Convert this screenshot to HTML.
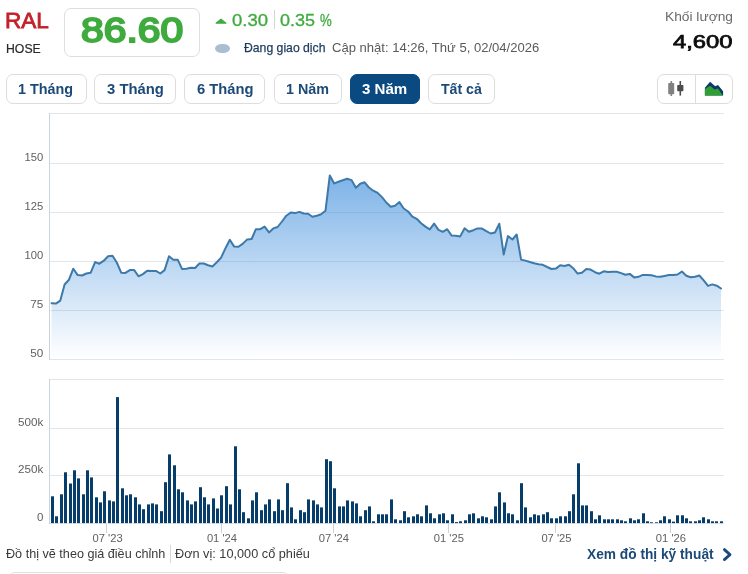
<!DOCTYPE html>
<html lang="vi"><head><meta charset="utf-8"><title>RAL</title>
<style>
html,body{margin:0;padding:0;background:#fff;}
body{width:748px;height:574px;position:relative;overflow:hidden;font-family:"Liberation Sans",sans-serif;color:#333;}
.abs{position:absolute;white-space:nowrap;line-height:1;transform-origin:0 0;}
.r{transform-origin:100% 0;}
.btn{position:absolute;top:74.1px;height:27.6px;border:1px solid #dddddd;border-radius:7px;background:#fff;box-sizing:content-box;}
.bt{font-weight:bold;color:#1c4a78;}
.btn.on{background:#0a4a80;border-color:#0a4a80;}
svg text{font-family:"Liberation Sans",sans-serif;}
</style></head><body>
<div class="abs" id="sym" style="left:5.14px;top:10.45px;font-size:22.30px;transform:scaleX(1.0121);color:#c3222b;-webkit-text-stroke:0.8px #c3222b;">RAL</div>
<div class="abs" id="exch" style="left:6.06px;top:43.10px;font-size:12.30px;transform:scaleX(0.9965);color:#2a2a2a;-webkit-text-stroke:0.2px #2a2a2a;">HOSE</div>
<div style="position:absolute;left:63.7px;top:7.7px;width:136.8px;height:49.6px;border:1px solid #dedede;border-radius:7px;box-sizing:border-box;"></div>
<div class="abs" id="price" style="left:81.46px;top:12.74px;font-size:34.80px;transform:scaleX(1.1735);color:#3fab3f;-webkit-text-stroke:2px #3fab3f;">86.60</div>
<svg class="abs" style="left:214px;top:17px" width="14" height="8" viewBox="0 0 14 8"><path d="M7 1.9 L12.2 6.2 L1.8 6.2 Z" fill="#3fab3f" stroke="#3fab3f" stroke-width="1" stroke-linejoin="round"/></svg>
<div class="abs" id="chg" style="left:231.78px;top:13.40px;font-size:15.70px;transform:scaleX(1.1806);color:#3fab3f;-webkit-text-stroke:0.3px #3fab3f;">0.30</div>
<div style="position:absolute;left:273.5px;top:10px;width:1px;height:19px;background:#d4d4d4;"></div>
<div class="abs" id="pct" style="left:280.20px;top:13.40px;font-size:15.70px;transform:scaleX(1.1457);color:#3fab3f;-webkit-text-stroke:0.3px #3fab3f;">0.35</div>
<div class="abs" id="pct2" style="left:320.03px;top:13.40px;font-size:15.70px;transform:scaleX(0.8414);color:#3fab3f;-webkit-text-stroke:0.3px #3fab3f;">%</div>
<div style="position:absolute;left:215px;top:43.5px;width:15px;height:9.5px;border-radius:50%;background:#a9bed1;"></div>
<div class="abs" id="stat" style="left:243.74px;top:40.60px;font-size:13.00px;transform:scaleX(0.9394);color:#1d3a5c;-webkit-text-stroke:0.25px #1d3a5c;">Đang giao dịch</div>
<div class="abs" id="upd" style="left:331.68px;top:40.53px;font-size:13.00px;transform:scaleX(1.0037);color:#5a5a5a;">Cập nhật: 14:26, Thứ 5, 02/04/2026</div>
<div class="abs" id="kl" style="left:665.39px;top:9.70px;font-size:13.00px;transform:scaleX(1.0586);color:#6a6a6a;">Khối lượng</div>
<div class="abs" id="vol" style="left:673.08px;top:31.51px;font-size:19.00px;transform:scaleX(1.2536);color:#0c0c0c;-webkit-text-stroke:0.75px #0c0c0c;">4,600</div>

<div class="btn" style="left:6px;width:78.5px;"></div>
<div class="btn" style="left:94px;width:80px;"></div>
<div class="btn" style="left:184px;width:79px;"></div>
<div class="btn" style="left:274px;width:65.5px;"></div>
<div class="btn on" style="left:349.7px;width:68.5px;"></div>
<div class="btn" style="left:428px;width:65px;"></div>
<div class="abs bt" id="b1" style="left:17.87px;top:82.25px;font-size:14.50px;transform:scaleX(0.9919);">1 Tháng</div>
<div class="abs bt" id="b2" style="left:106.88px;top:81.61px;font-size:14.50px;transform:scaleX(1.0235);">3 Tháng</div>
<div class="abs bt" id="b3" style="left:196.82px;top:82.31px;font-size:14.50px;transform:scaleX(1.0168);">6 Tháng</div>
<div class="abs bt" id="b4" style="left:285.97px;top:82.25px;font-size:14.50px;transform:scaleX(0.9886);">1 Năm</div>
<div class="abs bt" id="b5" style="left:362.40px;top:81.61px;font-size:14.50px;transform:scaleX(1.0402);color:#fff;">3 Năm</div>
<div class="abs bt" id="b6" style="left:441.06px;top:82.25px;font-size:14.50px;transform:scaleX(0.9733);">Tất cả</div>

<div style="position:absolute;left:656.9px;top:74.1px;width:74px;height:27.6px;border:1px solid #dddddd;border-radius:7px;"></div>
<div style="position:absolute;left:694.5px;top:75px;width:1px;height:28px;background:#dddddd;"></div>
<svg class="abs" style="left:660px;top:76px" width="72" height="26" viewBox="660 76 72 26">
<rect x="670.5" y="81" width="1.6" height="15" fill="#808080"/><rect x="668.2" y="83" width="6" height="11.2" rx="0.8" fill="#808080"/>
<rect x="679.5" y="81" width="1.6" height="14.6" fill="#4d4d4d"/><rect x="677.2" y="85" width="6.2" height="6.3" rx="0.8" fill="#4d4d4d"/>
<path d="M704.9 87.7 L710.1 81.8 L715.2 86.3 L718 85 L723.1 91.2 L723.1 95.6 L704.9 95.6 Z" fill="#0b3a69"/>
<path d="M704.9 95.6 L704.9 89.1 L710.1 85.7 L714.5 89.5 L718 88.4 L722.1 94.6 L723.1 95.6 Z" fill="#2f9e33"/>
</svg>

<svg class="abs" style="left:0;top:0" width="748" height="574" viewBox="0 0 748 574">
<defs><linearGradient id="g" x1="0" y1="114" x2="0" y2="359" gradientUnits="userSpaceOnUse">
<stop offset="0" stop-color="#4390dd" stop-opacity="0.92"/><stop offset="1" stop-color="#4390dd" stop-opacity="0"/></linearGradient></defs>
<g stroke="#e3e5e8" stroke-width="1" shape-rendering="crispEdges">
<line x1="49" y1="113.5" x2="723.5" y2="113.5"/>
<line x1="49" y1="163.5" x2="723.5" y2="163.5"/>
<line x1="49" y1="212.5" x2="723.5" y2="212.5"/>
<line x1="49" y1="261.5" x2="723.5" y2="261.5"/>
<line x1="49" y1="310.5" x2="723.5" y2="310.5"/>
<line x1="49" y1="359.5" x2="723.5" y2="359.5"/>
<line x1="49" y1="379.5" x2="723.5" y2="379.5"/>
<line x1="49" y1="428.5" x2="723.5" y2="428.5"/>
<line x1="49" y1="475.5" x2="723.5" y2="475.5"/>
<line x1="49" y1="523.5" x2="723.5" y2="523.5"/>
</g>
<g stroke="#cad4df" stroke-width="1" shape-rendering="crispEdges">
<line x1="49.5" y1="113" x2="49.5" y2="360"/>
<line x1="49.5" y1="379" x2="49.5" y2="524"/>
<line x1="106.5" y1="524" x2="106.5" y2="532.6"/>
<line x1="221.5" y1="524" x2="221.5" y2="532.6"/>
<line x1="333.5" y1="524" x2="333.5" y2="532.6"/>
<line x1="448.5" y1="524" x2="448.5" y2="532.6"/>
<line x1="555.5" y1="524" x2="555.5" y2="532.6"/>
<line x1="670.5" y1="524" x2="670.5" y2="532.6"/>
</g>
<path d="M51.6 303.2 L55.9 303.6 L60.3 300.6 L64.6 284.5 L69.0 279.7 L73.3 268.7 L77.7 275.1 L82.0 275.5 L86.4 273.5 L90.7 272.7 L95.1 262.1 L99.4 263.7 L103.8 260.7 L108.1 256.3 L112.5 255.7 L116.8 262.5 L121.2 272.7 L125.5 272.9 L129.8 270.1 L134.2 270.1 L138.5 276.3 L142.9 274.1 L147.2 270.7 L151.6 271.1 L155.9 270.9 L160.3 273.5 L164.6 270.1 L169.0 256.3 L173.3 259.7 L177.7 259.7 L182.0 268.9 L186.4 268.7 L190.7 267.7 L195.1 268.0 L199.4 263.5 L203.7 263.5 L208.1 265.3 L212.4 266.5 L216.8 262.3 L221.1 257.6 L225.5 248.2 L229.8 239.8 L234.2 246.6 L238.5 246.8 L242.9 243.6 L247.2 239.4 L251.6 239.0 L255.9 229.2 L260.3 229.2 L264.6 226.6 L269.0 232.4 L273.3 228.4 L277.6 227.0 L282.0 221.5 L286.3 215.7 L290.7 212.5 L295.0 213.1 L299.4 211.9 L303.7 213.5 L308.1 213.7 L312.4 216.7 L316.8 215.7 L321.1 214.3 L325.5 210.7 L329.8 175.4 L334.2 183.4 L338.5 181.8 L342.8 180.3 L347.2 178.8 L351.5 180.1 L355.9 187.7 L360.2 183.7 L364.6 182.3 L368.9 187.5 L373.3 190.7 L377.6 192.9 L382.0 197.1 L386.3 202.5 L390.7 206.7 L395.0 205.7 L399.4 202.1 L403.7 208.5 L408.1 211.5 L412.4 216.7 L416.7 218.8 L421.1 223.2 L425.4 226.6 L429.8 229.4 L434.1 223.6 L438.5 229.8 L442.8 231.8 L447.2 229.2 L451.5 235.4 L455.9 235.8 L460.2 236.4 L464.6 228.2 L468.9 231.8 L473.3 230.2 L477.6 228.4 L482.0 228.6 L486.3 231.1 L490.6 233.5 L495.0 232.5 L499.3 223.7 L503.7 254.6 L508.0 236.1 L512.4 239.5 L516.7 234.5 L521.1 259.6 L525.4 260.6 L529.8 262.0 L534.1 263.2 L538.5 264.2 L542.8 264.8 L547.2 267.0 L551.5 269.0 L555.9 268.6 L560.2 265.2 L564.5 266.0 L568.9 264.8 L573.2 268.2 L577.6 273.6 L581.9 272.8 L586.3 269.0 L590.6 269.6 L595.0 272.2 L599.3 273.7 L603.7 271.3 L608.0 272.1 L612.4 271.7 L616.7 271.7 L621.1 273.1 L625.4 274.8 L629.8 273.9 L634.1 277.4 L638.4 276.8 L642.8 274.9 L647.1 274.9 L651.5 275.3 L655.8 276.4 L660.2 276.8 L664.5 276.0 L668.9 275.1 L673.2 274.9 L677.6 274.5 L681.9 271.5 L686.3 275.7 L690.6 277.2 L695.0 276.8 L699.3 275.5 L703.7 280.4 L708.0 285.9 L712.3 284.4 L716.7 285.7 L721.0 288.5 L721.0 359.2 L51.6 359.2 Z" fill="url(#g)"/>
<path d="M51.6 303.2 L55.9 303.6 L60.3 300.6 L64.6 284.5 L69.0 279.7 L73.3 268.7 L77.7 275.1 L82.0 275.5 L86.4 273.5 L90.7 272.7 L95.1 262.1 L99.4 263.7 L103.8 260.7 L108.1 256.3 L112.5 255.7 L116.8 262.5 L121.2 272.7 L125.5 272.9 L129.8 270.1 L134.2 270.1 L138.5 276.3 L142.9 274.1 L147.2 270.7 L151.6 271.1 L155.9 270.9 L160.3 273.5 L164.6 270.1 L169.0 256.3 L173.3 259.7 L177.7 259.7 L182.0 268.9 L186.4 268.7 L190.7 267.7 L195.1 268.0 L199.4 263.5 L203.7 263.5 L208.1 265.3 L212.4 266.5 L216.8 262.3 L221.1 257.6 L225.5 248.2 L229.8 239.8 L234.2 246.6 L238.5 246.8 L242.9 243.6 L247.2 239.4 L251.6 239.0 L255.9 229.2 L260.3 229.2 L264.6 226.6 L269.0 232.4 L273.3 228.4 L277.6 227.0 L282.0 221.5 L286.3 215.7 L290.7 212.5 L295.0 213.1 L299.4 211.9 L303.7 213.5 L308.1 213.7 L312.4 216.7 L316.8 215.7 L321.1 214.3 L325.5 210.7 L329.8 175.4 L334.2 183.4 L338.5 181.8 L342.8 180.3 L347.2 178.8 L351.5 180.1 L355.9 187.7 L360.2 183.7 L364.6 182.3 L368.9 187.5 L373.3 190.7 L377.6 192.9 L382.0 197.1 L386.3 202.5 L390.7 206.7 L395.0 205.7 L399.4 202.1 L403.7 208.5 L408.1 211.5 L412.4 216.7 L416.7 218.8 L421.1 223.2 L425.4 226.6 L429.8 229.4 L434.1 223.6 L438.5 229.8 L442.8 231.8 L447.2 229.2 L451.5 235.4 L455.9 235.8 L460.2 236.4 L464.6 228.2 L468.9 231.8 L473.3 230.2 L477.6 228.4 L482.0 228.6 L486.3 231.1 L490.6 233.5 L495.0 232.5 L499.3 223.7 L503.7 254.6 L508.0 236.1 L512.4 239.5 L516.7 234.5 L521.1 259.6 L525.4 260.6 L529.8 262.0 L534.1 263.2 L538.5 264.2 L542.8 264.8 L547.2 267.0 L551.5 269.0 L555.9 268.6 L560.2 265.2 L564.5 266.0 L568.9 264.8 L573.2 268.2 L577.6 273.6 L581.9 272.8 L586.3 269.0 L590.6 269.6 L595.0 272.2 L599.3 273.7 L603.7 271.3 L608.0 272.1 L612.4 271.7 L616.7 271.7 L621.1 273.1 L625.4 274.8 L629.8 273.9 L634.1 277.4 L638.4 276.8 L642.8 274.9 L647.1 274.9 L651.5 275.3 L655.8 276.4 L660.2 276.8 L664.5 276.0 L668.9 275.1 L673.2 274.9 L677.6 274.5 L681.9 271.5 L686.3 275.7 L690.6 277.2 L695.0 276.8 L699.3 275.5 L703.7 280.4 L708.0 285.9 L712.3 284.4 L716.7 285.7 L721.0 288.5" fill="none" stroke="#3d79a9" stroke-width="2" stroke-linejoin="round" stroke-linecap="round"/>
<g fill="#073d6b"><rect x="51" y="496.3" width="3" height="26.8"/><rect x="55" y="516.3" width="3" height="6.8"/><rect x="60" y="494.3" width="3" height="28.8"/><rect x="64" y="472.3" width="3" height="50.8"/><rect x="69" y="483.5" width="3" height="39.6"/><rect x="73" y="470.3" width="3" height="52.8"/><rect x="77" y="478.4" width="3" height="44.7"/><rect x="82" y="494.3" width="3" height="28.8"/><rect x="86" y="470.3" width="3" height="52.8"/><rect x="90" y="477.4" width="3" height="45.7"/><rect x="95" y="497.3" width="3" height="25.8"/><rect x="99" y="502.4" width="3" height="20.7"/><rect x="103" y="491.3" width="3" height="31.8"/><rect x="108" y="500.4" width="3" height="22.7"/><rect x="112" y="501.4" width="3" height="21.7"/><rect x="116" y="397.1" width="3" height="126.0"/><rect x="121" y="488.3" width="3" height="34.8"/><rect x="125" y="495.3" width="3" height="27.8"/><rect x="129" y="494.3" width="3" height="28.8"/><rect x="134" y="497.3" width="3" height="25.8"/><rect x="138" y="504.4" width="3" height="18.7"/><rect x="142" y="509.2" width="3" height="13.9"/><rect x="147" y="504.4" width="3" height="18.7"/><rect x="151" y="503.4" width="3" height="19.7"/><rect x="155" y="504.4" width="3" height="18.7"/><rect x="160" y="511.2" width="3" height="11.9"/><rect x="164" y="482.2" width="3" height="40.9"/><rect x="168" y="454.4" width="3" height="68.7"/><rect x="173" y="465.3" width="3" height="57.8"/><rect x="177" y="489.3" width="3" height="33.8"/><rect x="181" y="492.3" width="3" height="30.8"/><rect x="186" y="500.4" width="3" height="22.7"/><rect x="190" y="504.4" width="3" height="18.7"/><rect x="194" y="501.4" width="3" height="21.7"/><rect x="199" y="487.2" width="3" height="35.9"/><rect x="203" y="497.3" width="3" height="25.8"/><rect x="207" y="504.4" width="3" height="18.7"/><rect x="212" y="498.4" width="3" height="24.7"/><rect x="216" y="508.5" width="3" height="14.6"/><rect x="220" y="495.3" width="3" height="27.8"/><rect x="225" y="486.2" width="3" height="36.9"/><rect x="229" y="504.4" width="3" height="18.7"/><rect x="234" y="446.3" width="3" height="76.8"/><rect x="238" y="489.3" width="3" height="33.8"/><rect x="242" y="512.2" width="3" height="10.9"/><rect x="247" y="518.3" width="3" height="4.8"/><rect x="251" y="500.4" width="3" height="22.7"/><rect x="255" y="492.3" width="3" height="30.8"/><rect x="260" y="510.2" width="3" height="12.9"/><rect x="264" y="504.4" width="3" height="18.7"/><rect x="268" y="499.4" width="3" height="23.7"/><rect x="273" y="511.2" width="3" height="11.9"/><rect x="277" y="499.4" width="3" height="23.7"/><rect x="281" y="510.2" width="3" height="12.9"/><rect x="286" y="483.2" width="3" height="39.9"/><rect x="290" y="507.4" width="3" height="15.7"/><rect x="294" y="519.3" width="3" height="3.8"/><rect x="299" y="510.2" width="3" height="12.9"/><rect x="303" y="512.2" width="3" height="10.9"/><rect x="307" y="499.4" width="3" height="23.7"/><rect x="312" y="500.4" width="3" height="22.7"/><rect x="316" y="504.4" width="3" height="18.7"/><rect x="320" y="507.4" width="3" height="15.7"/><rect x="325" y="459.2" width="3" height="63.9"/><rect x="329" y="461.2" width="3" height="61.9"/><rect x="333" y="488.3" width="3" height="34.8"/><rect x="338" y="506.4" width="3" height="16.7"/><rect x="342" y="506.4" width="3" height="16.7"/><rect x="346" y="500.4" width="3" height="22.7"/><rect x="351" y="501.4" width="3" height="21.7"/><rect x="355" y="503.4" width="3" height="19.7"/><rect x="359" y="516.3" width="3" height="6.8"/><rect x="364" y="510.2" width="3" height="12.9"/><rect x="368" y="506.4" width="3" height="16.7"/><rect x="372" y="521.3" width="3" height="1.8"/><rect x="377" y="514.3" width="3" height="8.8"/><rect x="381" y="514.3" width="3" height="8.8"/><rect x="385" y="514.3" width="3" height="8.8"/><rect x="390" y="499.4" width="3" height="23.7"/><rect x="394" y="519.3" width="3" height="3.8"/><rect x="399" y="520.3" width="3" height="2.8"/><rect x="403" y="511.2" width="3" height="11.9"/><rect x="407" y="517.3" width="3" height="5.8"/><rect x="412" y="516.3" width="3" height="6.8"/><rect x="416" y="514.3" width="3" height="8.8"/><rect x="420" y="516.3" width="3" height="6.8"/><rect x="425" y="505.4" width="3" height="17.7"/><rect x="429" y="513.3" width="3" height="9.8"/><rect x="433" y="518.3" width="3" height="4.8"/><rect x="438" y="514.3" width="3" height="8.8"/><rect x="442" y="513.3" width="3" height="9.8"/><rect x="446" y="520.3" width="3" height="2.8"/><rect x="451" y="514.3" width="3" height="8.8"/><rect x="455" y="522.1" width="3" height="1.0"/><rect x="459" y="521.3" width="3" height="1.8"/><rect x="464" y="520.3" width="3" height="2.8"/><rect x="468" y="514.3" width="3" height="8.8"/><rect x="472" y="513.3" width="3" height="9.8"/><rect x="477" y="518.3" width="3" height="4.8"/><rect x="481" y="516.3" width="3" height="6.8"/><rect x="485" y="517.3" width="3" height="5.8"/><rect x="490" y="519.3" width="3" height="3.8"/><rect x="494" y="506.4" width="3" height="16.7"/><rect x="498" y="492.3" width="3" height="30.8"/><rect x="503" y="502.4" width="3" height="20.7"/><rect x="507" y="513.3" width="3" height="9.8"/><rect x="511" y="514.3" width="3" height="8.8"/><rect x="516" y="520.3" width="3" height="2.8"/><rect x="520" y="483.2" width="3" height="39.9"/><rect x="524" y="507.4" width="3" height="15.7"/><rect x="529" y="517.3" width="3" height="5.8"/><rect x="533" y="514.3" width="3" height="8.8"/><rect x="537" y="515.3" width="3" height="7.8"/><rect x="542" y="514.3" width="3" height="8.8"/><rect x="546" y="512.2" width="3" height="10.9"/><rect x="550" y="518.3" width="3" height="4.8"/><rect x="555" y="518.3" width="3" height="4.8"/><rect x="559" y="516.3" width="3" height="6.8"/><rect x="564" y="516.3" width="3" height="6.8"/><rect x="568" y="511.2" width="3" height="11.9"/><rect x="572" y="494.3" width="3" height="28.8"/><rect x="577" y="463.3" width="3" height="59.8"/><rect x="581" y="505.4" width="3" height="17.7"/><rect x="585" y="505.4" width="3" height="17.7"/><rect x="590" y="511.2" width="3" height="11.9"/><rect x="594" y="519.3" width="3" height="3.8"/><rect x="598" y="515.3" width="3" height="7.8"/><rect x="603" y="519.3" width="3" height="3.8"/><rect x="607" y="519.3" width="3" height="3.8"/><rect x="611" y="519.3" width="3" height="3.8"/><rect x="616" y="519.3" width="3" height="3.8"/><rect x="620" y="520.3" width="3" height="2.8"/><rect x="624" y="521.3" width="3" height="1.8"/><rect x="629" y="518.3" width="3" height="4.8"/><rect x="633" y="520.3" width="3" height="2.8"/><rect x="637" y="519.3" width="3" height="3.8"/><rect x="642" y="513.3" width="3" height="9.8"/><rect x="646" y="521.3" width="3" height="1.8"/><rect x="650" y="522.3" width="3" height="0.8"/><rect x="655" y="522.3" width="3" height="0.8"/><rect x="659" y="520.3" width="3" height="2.8"/><rect x="663" y="516.3" width="3" height="6.8"/><rect x="668" y="519.3" width="3" height="3.8"/><rect x="672" y="521.6" width="3" height="1.5"/><rect x="676" y="515.3" width="3" height="7.8"/><rect x="681" y="515.3" width="3" height="7.8"/><rect x="685" y="518.3" width="3" height="4.8"/><rect x="689" y="521.3" width="3" height="1.8"/><rect x="694" y="521.3" width="3" height="1.8"/><rect x="698" y="520.3" width="3" height="2.8"/><rect x="702" y="517.3" width="3" height="5.8"/><rect x="707" y="519.3" width="3" height="3.8"/><rect x="711" y="521.3" width="3" height="1.8"/><rect x="715" y="521.3" width="3" height="1.8"/><rect x="720" y="521.3" width="3" height="1.8"/></g>
<g font-size="10.9" fill="#606060" text-anchor="end">
<text x="43.3" y="160.6" textLength="18.7" lengthAdjust="spacingAndGlyphs">150</text>
<text x="43.3" y="209.6" textLength="18.7" lengthAdjust="spacingAndGlyphs">125</text>
<text x="43.3" y="258.8" textLength="18.7" lengthAdjust="spacingAndGlyphs">100</text>
<text x="43.3" y="307.8" textLength="13" lengthAdjust="spacingAndGlyphs">75</text>
<text x="43.3" y="356.8" textLength="13" lengthAdjust="spacingAndGlyphs">50</text>
<text x="43.3" y="425.8" textLength="25.3" lengthAdjust="spacingAndGlyphs">500k</text>
<text x="43.3" y="472.8" textLength="25.3" lengthAdjust="spacingAndGlyphs">250k</text>
<text x="43.3" y="520.8" textLength="6.4" lengthAdjust="spacingAndGlyphs">0</text>
</g>
<g font-size="10.9" fill="#606060" text-anchor="middle">
<text x="107.6" y="541.9" textLength="30.2" lengthAdjust="spacingAndGlyphs">07 '23</text>
<text x="222" y="541.9" textLength="30.2" lengthAdjust="spacingAndGlyphs">01 '24</text>
<text x="333.8" y="541.9" textLength="30.2" lengthAdjust="spacingAndGlyphs">07 '24</text>
<text x="448.8" y="541.9" textLength="30.2" lengthAdjust="spacingAndGlyphs">01 '25</text>
<text x="556.5" y="541.9" textLength="30.2" lengthAdjust="spacingAndGlyphs">07 '25</text>
<text x="670.9" y="541.9" textLength="30.2" lengthAdjust="spacingAndGlyphs">01 '26</text>
</g>
</svg>

<div class="abs" id="f1" style="left:5.89px;top:547.02px;font-size:13.20px;transform:scaleX(0.9576);color:#3a3a3a;">Đồ thị vẽ theo giá điều chỉnh</div>
<div style="position:absolute;left:169.5px;top:545px;width:1px;height:18px;background:#d8d8d8;"></div>
<div class="abs" id="f2" style="left:175.01px;top:547.02px;font-size:13.20px;transform:scaleX(0.9641);color:#3a3a3a;">Đơn vị: 10,000 cổ phiếu</div>
<div class="abs" id="f3" style="left:587.20px;top:547.45px;font-size:14.50px;transform:scaleX(0.9465);font-weight:bold;color:#1c4a78;">Xem đồ thị kỹ thuật</div>
<svg class="abs" style="left:721px;top:547px" width="13" height="15" viewBox="0 0 13 15"><path d="M3.4 2.6 L9 7.6 L3.4 12.6" fill="none" stroke="#1c4a78" stroke-width="2.8" stroke-linecap="round" stroke-linejoin="round"/></svg>
<div style="position:absolute;left:8px;top:572px;width:282px;height:20px;border:1px solid #dfdfdf;border-radius:7px;box-sizing:border-box;"></div>
</body></html>
